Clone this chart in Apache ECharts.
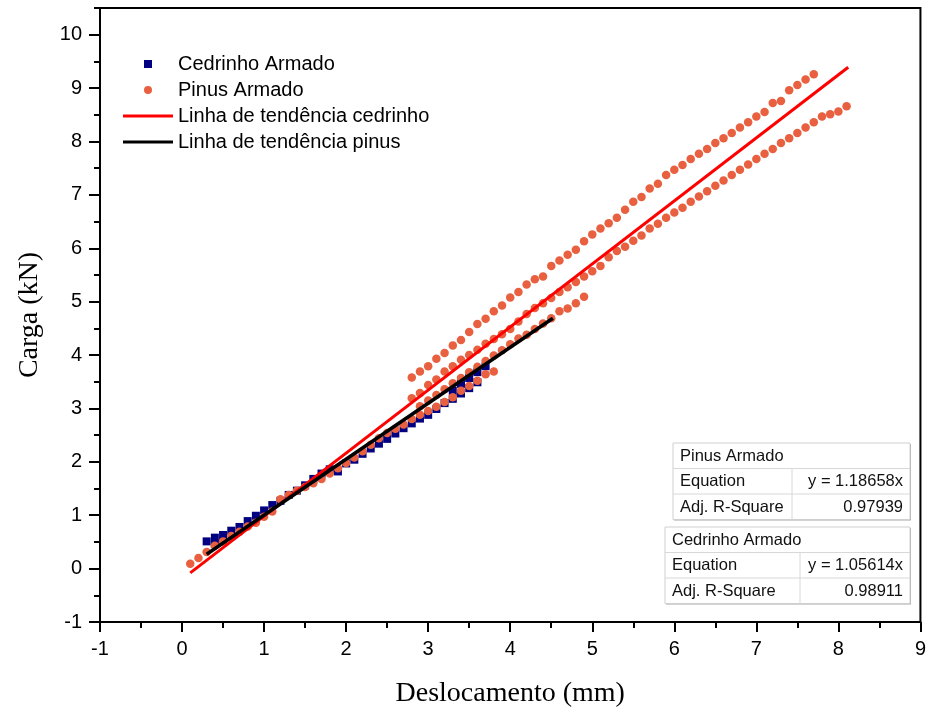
<!DOCTYPE html>
<html>
<head>
<meta charset="utf-8">
<script src="https://cdn.jsdelivr.net/npm/echarts@6/dist/echarts.min.js"></script>
<style>html,body{margin:0;padding:0;background:#fff}#c{width:929px;height:713px}</style>
</head>
<body>
<div id="c"></div>
<script>
// ---------- data ----------
const seriesNames = ['Cedrinho Armado', 'Pinus Armado', 'Linha de tendência cedrinho', 'Linha de tendência pinus'];

const cedrinhoX = [0.3,0.4,0.4,0.5,0.5,0.6,0.7,0.8,0.9,1.0,1.1,1.2,1.3,1.4,1.5,1.6,1.7,1.8,1.9,2.0,2.1,2.2,2.3,2.4,2.5,2.6,2.7,2.8,2.9,3.0,3.1,3.2,3.3,3.4,3.5,3.6,3.3,3.4,3.5,3.6,3.7];
const cedrinhoY = [0.51,0.58,0.46,0.63,0.52,0.71,0.78,0.89,0.99,1.09,1.19,1.27,1.38,1.46,1.56,1.68,1.78,1.86,1.82,1.97,2.04,2.15,2.25,2.34,2.43,2.53,2.63,2.72,2.81,2.88,2.99,3.10,3.18,3.28,3.38,3.49,3.33,3.46,3.57,3.68,3.79];

// Pinus: loading branch
const pinusLoadX = [0.1,0.2,0.3,0.4,0.5,0.6,0.7,0.8,0.9,1.0,1.1,1.2,1.3,1.4,1.5,1.6,1.7,1.8,1.9,2.0,2.1,2.2,2.3,2.4,2.5,2.6,2.7,2.8,2.9,3.0,3.1,3.2,3.3,3.4,3.5,3.6,3.7,3.8];
const pinusLoadY = [0.09,0.20,0.31,0.43,0.51,0.61,0.69,0.79,0.86,0.97,1.07,1.30,1.38,1.46,1.53,1.60,1.68,1.78,1.88,1.98,2.08,2.20,2.32,2.44,2.54,2.62,2.70,2.80,2.88,2.95,3.03,3.12,3.21,3.33,3.42,3.52,3.64,3.69];
// Pinus: second reloading branch
const pinusReloadX = [2.9,3.0,3.1,3.2,3.3,3.4,3.5,3.6,3.7,3.8,3.9,4.0,4.1,4.2,4.3,4.4,4.5,4.6,4.7,4.8,4.9];
const pinusReloadY = [3.04,3.15,3.25,3.36,3.47,3.57,3.68,3.78,3.89,3.99,4.09,4.20,4.31,4.38,4.49,4.59,4.69,4.82,4.87,4.97,5.09];
// Pinus: lower long branch
const pinusLowerX = [2.8,2.9,3.0,3.1,3.2,3.3,3.4,3.5,3.6,3.7,3.8,3.9,4.0,4.1,4.2,4.3,4.4,4.5,4.6,4.7,4.8,4.9,5.0,5.1,5.2,5.3,5.4,5.5,5.6,5.7,5.8,5.9,6.0,6.1,6.2,6.3,6.4,6.5,6.6,6.7,6.8,6.9,7.0,7.1,7.2,7.3,7.4,7.5,7.6,7.7,7.8,7.9,8.0,8.1];
const pinusLowerY = [3.19,3.29,3.44,3.54,3.69,3.79,3.91,4.00,4.10,4.21,4.30,4.39,4.49,4.63,4.77,4.88,4.97,5.07,5.18,5.27,5.37,5.47,5.57,5.67,5.83,5.95,6.03,6.14,6.24,6.37,6.46,6.57,6.67,6.76,6.87,6.97,7.07,7.17,7.27,7.37,7.47,7.57,7.67,7.77,7.86,7.97,8.06,8.16,8.26,8.36,8.47,8.51,8.56,8.66];
// Pinus: upper long branch
const pinusUpperX = [2.8,2.9,3.0,3.1,3.2,3.3,3.4,3.5,3.6,3.7,3.8,3.9,4.0,4.1,4.2,4.3,4.4,4.5,4.6,4.7,4.8,4.9,5.0,5.1,5.2,5.3,5.4,5.5,5.6,5.7,5.8,5.9,6.0,6.1,6.2,6.3,6.4,6.5,6.6,6.7,6.8,6.9,7.0,7.1,7.2,7.3,7.4,7.5,7.6,7.7];
const pinusUpperY = [3.58,3.69,3.79,3.93,4.04,4.18,4.28,4.43,4.58,4.68,4.82,4.93,5.08,5.18,5.32,5.42,5.47,5.67,5.77,5.88,5.97,6.13,6.26,6.37,6.47,6.57,6.72,6.87,6.96,7.12,7.21,7.37,7.47,7.56,7.67,7.77,7.86,7.97,8.06,8.16,8.26,8.36,8.47,8.55,8.72,8.76,8.96,9.06,9.16,9.26];

// trend lines (endpoints)
const trendCedrinhoX = [0.1, 8.12];
const trendCedrinhoY = [-0.08, 9.39];
const trendPinusX = [0.3, 4.52];
const trendPinusY = [0.27, 4.69];

// axes
const xTicks = [-1,0,1,2,3,4,5,6,7,8,9];
const yTicks = [-1,0,1,2,3,4,5,6,7,8,9,10];
const xTitle = 'Deslocamento (mm)';
const yTitle = 'Carga (kN)';

// fit tables
const pinusTable = ['Pinus Armado', 'Equation', 'y = 1.18658x', 'Adj. R-Square', '0.97939'];
const cedrinhoTable = ['Cedrinho Armado', 'Equation', 'y = 1.05614x', 'Adj. R-Square', '0.98911'];

// ---------- build ----------
function zip(xs, ys){ return xs.map((x,i)=>[x, ys[i]]); }
const pinusData = [].concat(
  zip(pinusLoadX, pinusLoadY), zip(pinusReloadX, pinusReloadY),
  zip(pinusLowerX, pinusLowerY), zip(pinusUpperX, pinusUpperY));

const SANS = "'Liberation Sans', Arial, sans-serif";
const SERIF = "'Liberation Serif', 'Times New Roman', serif";

function table(t, x, y, w, colX, rowH){
  const h = rowH*3;
  const els = [];
  els.push({type:'rect', shape:{x:x+1, y:y+1, width:w, height:h}, style:{fill:'#a8a8a8'}, z:100});
  els.push({type:'rect', shape:{x:x, y:y, width:w, height:h}, style:{fill:'#fff', stroke:'#cfcfcf', lineWidth:1}, z:101});
  els.push({type:'line', shape:{x1:x, y1:y+rowH, x2:x+w, y2:y+rowH}, style:{stroke:'#d8d8d8', lineWidth:1}, z:102});
  els.push({type:'line', shape:{x1:x, y1:y+2*rowH, x2:x+w, y2:y+2*rowH}, style:{stroke:'#d8d8d8', lineWidth:1}, z:102});
  els.push({type:'line', shape:{x1:colX, y1:y+rowH, x2:colX, y2:y+h}, style:{stroke:'#d8d8d8', lineWidth:1}, z:102});
  const f = {fontFamily:SANS, fontSize:16.5, fill:'#111', verticalAlign:'middle'};
  els.push({type:'text', x:x+7, y:y+rowH/2+0.5, style:Object.assign({text:t[0], align:'left'}, f), z:103});
  els.push({type:'text', x:x+7, y:y+rowH*1.5+0.5, style:Object.assign({text:t[1], align:'left'}, f), z:103});
  els.push({type:'text', x:x+w-7, y:y+rowH*1.5+0.5, style:Object.assign({text:t[2], align:'right'}, f), z:103});
  els.push({type:'text', x:x+7, y:y+rowH*2.5+0.5, style:Object.assign({text:t[3], align:'left'}, f), z:103});
  els.push({type:'text', x:x+w-7, y:y+rowH*2.5+0.5, style:Object.assign({text:t[4], align:'right'}, f), z:103});
  return els;
}

const SQUARE_ICON = 'path://M0,0H10V10H0Z';
const LINE_ICON = 'path://M0,0H50V3H0Z';

const chart = echarts.init(document.getElementById('c'), null, {renderer:'canvas'});
chart.setOption({
  animation: false,
  backgroundColor: '#fff',
  grid: {left:100, right:4, top:8, bottom:91, show:true, borderColor:'#000', borderWidth:2, backgroundColor:'transparent'},
  legend: {
    left: 118, top: 49, orient: 'vertical',
    itemWidth: 50, itemHeight: 8, itemGap: 6,
    symbolKeepAspect: true,
    textStyle: {fontFamily:SANS, fontSize:20, color:'#000', lineHeight:20},
    data: [
      {name:seriesNames[0], icon:SQUARE_ICON},
      {name:seriesNames[1], icon:'circle'},
      {name:seriesNames[2], icon:LINE_ICON},
      {name:seriesNames[3], icon:LINE_ICON}
    ]
  },
  xAxis: {
    type:'value', min:-1, max:9, interval:1,
    name: xTitle, nameLocation:'middle', nameGap:58,
    nameTextStyle:{fontFamily:SERIF, fontSize:28, color:'#000'},
    axisLine:{show:true, onZero:false, lineStyle:{color:'#000', width:2}},
    axisTick:{show:true, inside:false, length:10, lineStyle:{color:'#000', width:2}, customValues:xTicks},
    minorTick:{show:true, splitNumber:2, length:6, lineStyle:{color:'#000', width:2}},
    axisLabel:{fontFamily:SANS, fontSize:20, color:'#000', margin:17, customValues:xTicks},
    splitLine:{show:false}, minorSplitLine:{show:false}
  },
  yAxis: [{
    type:'value', min:-1, max:10.5, interval:1,
    name: yTitle, nameLocation:'middle', nameGap:56, nameRotate:90,
    nameTextStyle:{fontFamily:SERIF, fontSize:28, color:'#000'},
    axisLine:{show:true, onZero:false, lineStyle:{color:'#000', width:2}},
    axisTick:{show:true, inside:false, length:11, lineStyle:{color:'#000', width:2}, customValues:yTicks},
    axisLabel:{fontFamily:SANS, fontSize:20, color:'#000', margin:18, customValues:yTicks},
    splitLine:{show:false}
  },{
    type:'value', min:-1, max:10.5, interval:0.5, position:'left', offset:0,
    axisLine:{show:false, onZero:false},
    axisTick:{show:true, inside:false, length:6, lineStyle:{color:'#000', width:2}},
    axisLabel:{show:false},
    splitLine:{show:false}
  }],
  series: [
    {name:seriesNames[0], type:'scatter', symbol:'rect', symbolSize:8, data:zip(cedrinhoX, cedrinhoY),
     itemStyle:{color:'#000080', opacity:1}, z:2},
    {name:seriesNames[1], type:'scatter', symbol:'circle', symbolSize:8.5, data:pinusData,
     itemStyle:{color:'#E8603F', opacity:1}, z:3},
    {name:seriesNames[2], type:'line', data:zip(trendCedrinhoX, trendCedrinhoY), showSymbol:false, symbol:'none',
     lineStyle:{color:'#FF0000', width:3}, itemStyle:{color:'#FF0000'}, z:4},
    {name:seriesNames[3], type:'line', data:zip(trendPinusX, trendPinusY), showSymbol:false, symbol:'none',
     lineStyle:{color:'#000000', width:3.5}, itemStyle:{color:'#000'}, z:5}
  ],
  graphic: [].concat(
    table(pinusTable, 673, 443, 237, 792, 25.5),
    table(cedrinhoTable, 665, 527, 245, 800, 25.5)
  )
});
</script>
</body>
</html>
